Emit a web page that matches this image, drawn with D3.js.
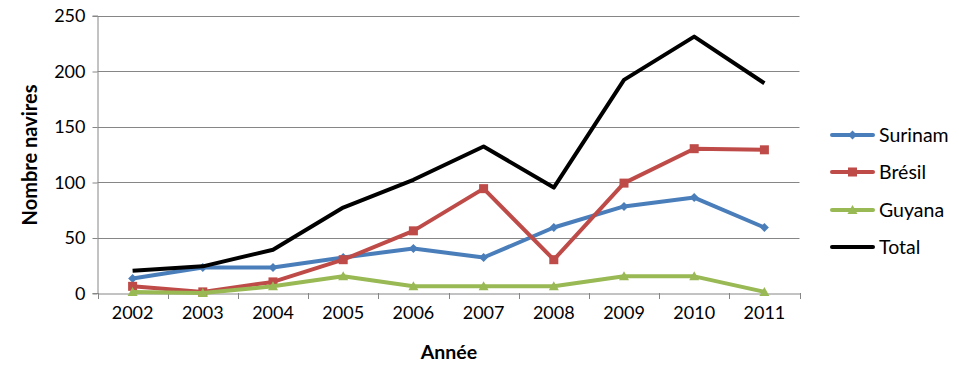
<!DOCTYPE html>
<html><head><meta charset="utf-8">
<script src="https://cdn.jsdelivr.net/npm/d3@7"></script>
<style>body{margin:0;background:#fff;} text{font-family:Lato,"Open Sans",sans-serif;}</style>
</head><body>
<svg id="c" width="959" height="383"></svg>
<script>
const years = ["2002","2003","2004","2005","2006","2007","2008","2009","2010","2011"];
const surinam = [13,23,23,32,40,32,59,78,86,59];
const bresil  = [6,1,10,30,56,94,30,99,130,129];
const guyana  = [1,0,6,15,6,6,6,15,15,1];
const total   = [20,24,39,77,102,132,95,192,231,189];
const yTicks = [0,50,100,150,200,250];

const series = [
  {name:"Surinam", values:surinam, color:"#4a7ebb", marker:"diamond"},
  {name:"Brésil", values:bresil, color:"#be4b48", marker:"square"},
  {name:"Guyana", values:guyana, color:"#98b954", marker:"triangle"},
  {name:"Total", values:total, color:"#000000", marker:"none"}
];

const svg = d3.select("#c");
const L=97.5, R=799.5, T=15.5, B=293;
const x = d3.scaleBand().domain(years).range([L,R]);
const y = d3.scaleLinear().domain([0,250]).range([B,T]);
const grid="#868686";

svg.append("g").selectAll("line").data(yTicks.filter(d=>d>0)).join("line")
  .attr("x1",L).attr("x2",R).attr("y1",d=>Math.round(y(d))+0.5).attr("y2",d=>Math.round(y(d))+0.5)
  .attr("stroke",grid).attr("stroke-width",1);

const ya = svg.append("g").attr("transform",`translate(${L},0)`)
  .call(d3.axisLeft(y).tickValues(yTicks).tickSize(5).tickPadding(7));
ya.select(".domain").attr("stroke",grid);
ya.selectAll(".tick line").attr("stroke",grid).attr("transform","translate(0,0.5)");
ya.selectAll(".tick text").attr("font-size",18).attr("fill","#000").attr("font-family","Lato").attr("dy","0.36em");

const xa = svg.append("g").attr("transform",`translate(0,${B+0.5})`)
  .call(d3.axisBottom(x).tickSize(0).tickPadding(13));
xa.select(".domain").attr("stroke",grid);
xa.selectAll(".tick text").attr("font-size",18).attr("fill","#000").attr("font-family","Lato");
svg.append("g").selectAll("line").data(d3.range(years.length+1)).join("line")
  .attr("x1",i=>Math.round(L+i*x.step())+0.5).attr("x2",i=>Math.round(L+i*x.step())+0.5)
  .attr("y1",B).attr("y2",B+6).attr("stroke",grid);

svg.append("text").attr("x",449).attr("y",359).attr("text-anchor","middle")
  .attr("font-size",19.5).attr("font-weight","bold").text("Année");
svg.append("text").attr("transform","translate(37,155) rotate(-90)").attr("text-anchor","middle")
  .attr("font-size",20).attr("font-weight","bold").text("Nombre navires");

const line = d3.line().x((d,i)=>x(years[i])+x.bandwidth()/2).y(d=>y(d));
function drawMarker(g,type,cx,cy,color){
  if(type==="square") g.append("rect").attr("x",cx-4.5).attr("y",cy-4.5).attr("width",9).attr("height",9).attr("fill",color);
  else if(type==="diamond") g.append("path").attr("d",`M${cx},${cy-4.5}L${cx+4.5},${cy}L${cx},${cy+4.5}L${cx-4.5},${cy}Z`).attr("fill",color);
  else if(type==="triangle") g.append("path").attr("d",`M${cx},${cy-5}L${cx+5},${cy+4}L${cx-5},${cy+4}Z`).attr("fill",color);
}
series.forEach(s=>{
  const g = svg.append("g");
  g.append("path").datum(s.values).attr("d",line).attr("fill","none")
    .attr("stroke",s.color).attr("stroke-width",4).attr("stroke-linejoin","round").attr("stroke-linecap","butt");
  s.values.forEach((v,i)=>drawMarker(g,s.marker,x(years[i])+x.bandwidth()/2,y(v),s.color));
});

const legY=[135,172,210,247];
series.forEach((s,i)=>{
  const g = svg.append("g");
  g.append("line").attr("x1",832).attr("x2",873).attr("y1",legY[i]).attr("y2",legY[i])
    .attr("stroke",s.color).attr("stroke-width",4).attr("stroke-linecap","round");
  drawMarker(g,s.marker,852.5,legY[i],s.color);
  g.append("text").attr("x",879).attr("y",legY[i]).attr("dy","0.36em").attr("font-size",19.5).text(s.name);
});
</script>
</body></html>
